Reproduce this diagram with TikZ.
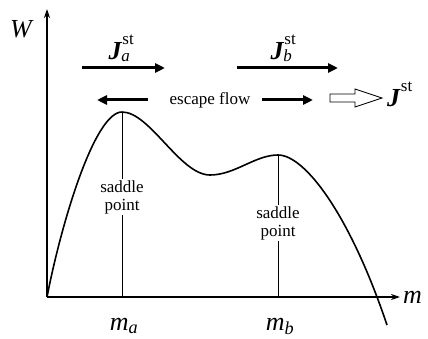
\documentclass[tikz,border=0pt]{standalone}
\usepackage{amsmath}
\usepackage{fontspec}
\setmainfont{Liberation Serif}
\usetikzlibrary{arrows.meta, positioning}

% flux symbol: bold J with "st" above and an optional index below
\newcommand{\fluxlbl}[1]{\textbf{\textit{J}}\rlap{\raisebox{15pt}{\fontsize{17}{17}\selectfont st}}%
  \kern-1pt\raisebox{-1.5pt}{\fontsize{17}{17}\selectfont\textit{#1}}\phantom{\fontsize{17}{17}\selectfont st}}

\begin{document}
\begin{tikzpicture}[x=1pt, y=-1pt,
  axis/.style={line width=1.6pt, -{Stealth[length=9pt, width=6pt]}},
  flow/.style={line width=3pt, -{Triangle[length=10pt, width=9pt]}},
  curve/.style={line width=1.6pt},
  guide/.style={line width=0.6pt},
  big/.style={font=\fontsize{26}{30}\selectfont, inner sep=0pt},
  note/.style={font=\fontsize{17}{18}\selectfont, align=center, inner sep=1.5pt},
]
\useasboundingbox (0,0) rectangle (428,339);
% axes
\coordinate (O) at (47,297);
\coordinate (ytip) at (47,9);
\coordinate (xtip) at (400,297);
\draw[axis] (O) -- (ytip);
\draw[axis] (O) -- (xtip);
% potential curve
\coordinate (peakA) at (122,112);
\coordinate (valley) at (210,175);
\coordinate (peakB) at (278,155);
\coordinate (tail) at (387,325);
\draw[curve] (O) .. controls (62,220) and (95,112) .. (peakA)
  .. controls (150,112) and (180,175) .. (valley)
  .. controls (235,175) and (255,155) .. (peakB)
  .. controls (305,155) and (350,215) .. (tail);
% saddle points
\coordinate (footA) at (122,297);
\coordinate (footB) at (278,297);
\draw[guide] (peakA) -- (footA);
\draw[guide] (peakB) -- (footB);
\node[note, fill=white] (saddleA) at (122,197) {saddle\\point};
\node[note, fill=white] (saddleB) at (278,223) {saddle\\point};
% labels
\node[big, anchor=base] (W) at (22,38) {\textit{W}};
\node[big, anchor=base west] (mlbl) at (403,303) {\textit{m}};
\node[big, anchor=base] (ma) at (124,330) {\textit{m}$_{\textit{a}}$};
\node[big, anchor=base] (mb) at (280,330) {\textit{m}$_{\textit{b}}$};
% stationary fluxes
\coordinate (jaL) at (82,68);
\coordinate (jaR) at (165,68);
\coordinate (jbL) at (237,68);
\coordinate (jbR) at (338,68);
\draw[flow] (jaL) -- (jaR);
\draw[flow] (jbL) -- (jbR);
\node[big, anchor=base] (Ja) at (125,60) {\fluxlbl{a}};
\node[big, anchor=base] (Jb) at (287,60) {\fluxlbl{b}};
% escape flow
\node[note] (flowtxt) at (210,100) {escape flow};
\coordinate (efA) at (148,100);
\coordinate (efL) at (97,100);
\coordinate (efB) at (262,100);
\coordinate (efR) at (313,100);
\draw[flow] (efA) -- (efL);
\draw[flow] (efB) -- (efR);
% total flux
\coordinate (hollow) at (330,98);
\draw[line width=0.8pt] (hollow) ++(0,-4) -- ++(25,0) -- ++(0,-5) -- ++(27,9)
  -- ++(-27,9) -- ++(0,-5) -- ++(-25,0) -- cycle;
\node[big, anchor=base west] (J) at (387,107) {\fluxlbl{}};
\end{tikzpicture}
\end{document}
